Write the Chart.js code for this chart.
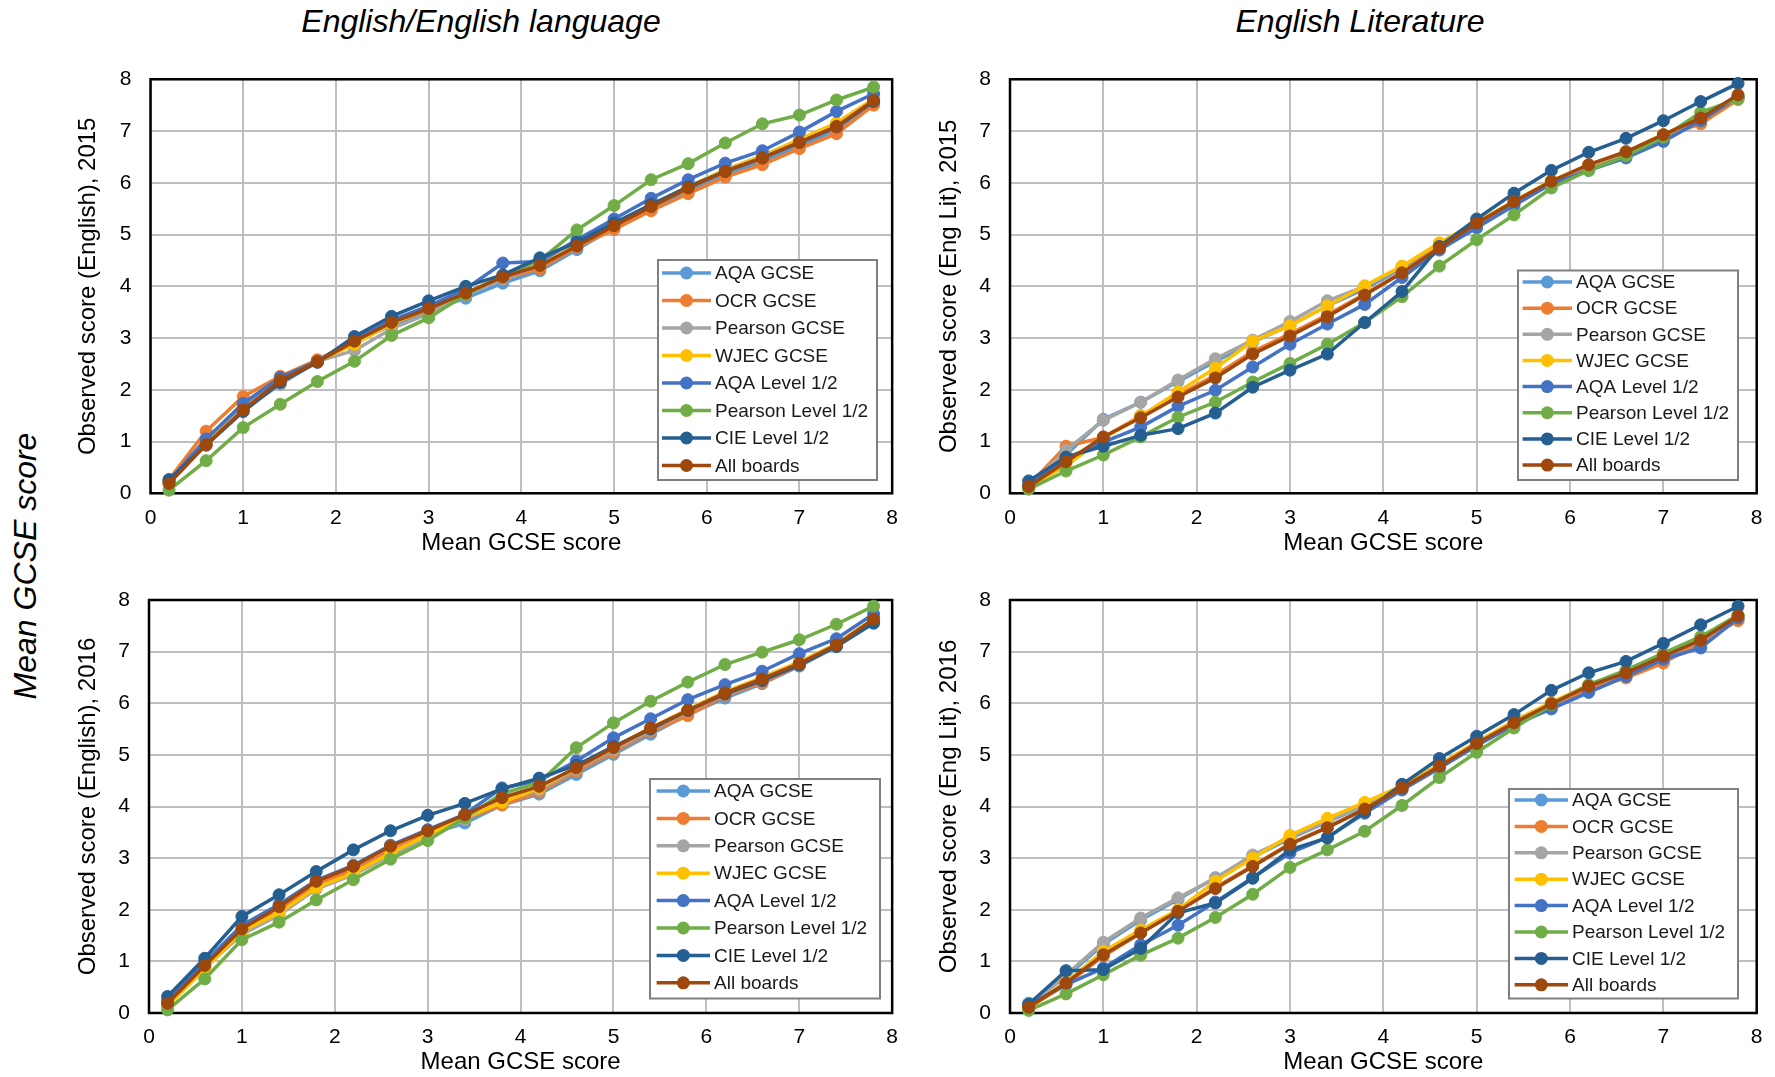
<!DOCTYPE html>
<html>
<head>
<meta charset="utf-8">
<script src="https://cdn.jsdelivr.net/npm/chart.js@4.4.0/dist/chart.umd.min.js"></script>
<style>
  body { margin: 0; background: #fff; }
  #page { position: relative; width: 1775px; height: 1077px; overflow: hidden; font-family: "Liberation Sans", Arial, sans-serif; color: #000; }
  canvas { position: absolute; }
  .title { position: absolute; top: 5px; font-style: italic; font-size: 32px; line-height: 32px; white-space: nowrap; transform: translateX(-50%); }
  .side { position: absolute; left: 25px; top: 566px; font-style: italic; font-size: 32px; white-space: nowrap; transform: translate(-50%, -50%) rotate(-90deg); }
</style>
</head>
<body>
<div id="page">
  <div class="title" style="left:481px">English/English language</div>
  <div class="title" style="left:1360px">English Literature</div>
  <div class="side">Mean GCSE score</div>
  <canvas id="c1" width="860" height="520" style="left:50px;top:45px"></canvas>
  <canvas id="c2" width="865" height="520" style="left:910px;top:45px"></canvas>
  <canvas id="c3" width="860" height="512" style="left:50px;top:565px"></canvas>
  <canvas id="c4" width="865" height="512" style="left:910px;top:565px"></canvas>
</div>
<script>
// x軸の値（平均GCSEスコア）
const meanScores = [0.2, 0.6, 1.0, 1.4, 1.8, 2.2, 2.6, 3.0, 3.4, 3.8, 4.2, 4.6, 5.0, 5.4, 5.8, 6.2, 6.6, 7.0, 7.4, 7.8];

// 系列名と色
const boards = ['AQA GCSE', 'OCR GCSE', 'Pearson GCSE', 'WJEC GCSE', 'AQA Level 1/2', 'Pearson Level 1/2', 'CIE Level 1/2', 'All boards'];
const boardColours = ['#5B9BD5', '#ED7D31', '#A5A5A5', '#FFC000', '#4472C4', '#70AD47', '#255E91', '#9E480E'];

// English / English language 2015（行は boards の順）
const english2015 = [
  [0.20, 0.98, 1.66, 2.18, 2.57, 2.93, 3.25, 3.52, 3.77, 4.06, 4.30, 4.71, 5.13, 5.49, 5.84, 6.16, 6.41, 6.72, 7.02, 7.55],
  [0.27, 1.20, 1.87, 2.26, 2.58, 2.95, 3.28, 3.55, 3.85, 4.14, 4.34, 4.76, 5.10, 5.46, 5.79, 6.11, 6.35, 6.66, 6.95, 7.50],
  [0.22, 0.98, 1.62, 2.10, 2.55, 2.76, 3.18, 3.47, 3.83, 4.15, 4.40, 4.80, 5.20, 5.56, 5.92, 6.25, 6.52, 6.82, 7.12, 7.58],
  [0.20, 0.95, 1.62, 2.17, 2.55, 2.88, 3.28, 3.57, 3.87, 4.19, 4.41, 4.80, 5.19, 5.56, 5.92, 6.25, 6.52, 6.84, 7.16, 7.62],
  [0.24, 1.05, 1.74, 2.24, 2.55, 2.97, 3.34, 3.62, 3.95, 4.45, 4.48, 4.90, 5.30, 5.70, 6.06, 6.38, 6.62, 6.98, 7.38, 7.72],
  [0.06, 0.63, 1.27, 1.72, 2.16, 2.55, 3.05, 3.39, 3.84, 4.20, 4.50, 5.09, 5.56, 6.06, 6.37, 6.77, 7.14, 7.31, 7.60, 7.85],
  [0.26, 0.93, 1.58, 2.14, 2.53, 3.03, 3.42, 3.72, 4.00, 4.22, 4.55, 4.85, 5.22, 5.58, 5.92, 6.22, 6.48, 6.78, 7.08, 7.57],
  [0.19, 0.94, 1.61, 2.18, 2.54, 2.94, 3.30, 3.57, 3.87, 4.18, 4.40, 4.78, 5.17, 5.54, 5.90, 6.22, 6.48, 6.78, 7.09, 7.59]
];

// English Literature 2015
const engLit2015 = [
  [0.15, 0.74, 1.43, 1.76, 2.16, 2.55, 2.92, 3.25, 3.62, 3.95, 4.35, 4.80, 5.20, 5.60, 5.98, 6.28, 6.52, 6.85, 7.18, 7.65],
  [0.15, 0.91, 1.08, 1.50, 1.90, 2.28, 2.74, 3.08, 3.45, 3.85, 4.27, 4.78, 5.20, 5.62, 6.02, 6.32, 6.58, 6.90, 7.14, 7.61],
  [0.14, 0.83, 1.41, 1.76, 2.19, 2.60, 2.96, 3.32, 3.72, 4.00, 4.38, 4.82, 5.22, 5.64, 6.03, 6.33, 6.58, 6.92, 7.22, 7.66],
  [0.12, 0.53, 1.06, 1.49, 1.96, 2.42, 2.94, 3.24, 3.62, 4.01, 4.39, 4.84, 5.24, 5.65, 6.04, 6.34, 6.60, 6.93, 7.25, 7.68],
  [0.15, 0.67, 0.99, 1.28, 1.68, 1.99, 2.44, 2.88, 3.27, 3.65, 4.17, 4.70, 5.13, 5.56, 5.98, 6.24, 6.48, 6.80, 7.20, 7.66],
  [0.08, 0.43, 0.74, 1.09, 1.47, 1.76, 2.15, 2.51, 2.88, 3.30, 3.80, 4.39, 4.90, 5.38, 5.90, 6.24, 6.52, 6.88, 7.36, 7.62],
  [0.24, 0.70, 0.91, 1.12, 1.25, 1.55, 2.05, 2.38, 2.69, 3.30, 3.90, 4.77, 5.30, 5.80, 6.24, 6.59, 6.86, 7.20, 7.57, 7.92],
  [0.13, 0.61, 1.09, 1.46, 1.86, 2.23, 2.69, 3.04, 3.41, 3.83, 4.26, 4.74, 5.22, 5.64, 6.03, 6.35, 6.60, 6.93, 7.25, 7.70]
];

// English / English language 2016
const english2016 = [
  [0.15, 0.88, 1.55, 2.00, 2.48, 2.78, 3.12, 3.45, 3.68, 4.03, 4.24, 4.62, 5.01, 5.40, 5.78, 6.10, 6.38, 6.72, 7.10, 7.60],
  [0.18, 0.92, 1.60, 2.02, 2.50, 2.76, 3.15, 3.46, 3.75, 4.03, 4.28, 4.68, 5.05, 5.45, 5.76, 6.15, 6.40, 6.73, 7.12, 7.60],
  [0.15, 0.88, 1.52, 1.90, 2.40, 2.68, 3.05, 3.40, 3.75, 4.10, 4.32, 4.72, 5.10, 5.48, 5.84, 6.18, 6.45, 6.76, 7.13, 7.62],
  [0.14, 0.85, 1.58, 1.94, 2.43, 2.71, 3.10, 3.45, 3.78, 4.08, 4.36, 4.75, 5.14, 5.52, 5.88, 6.22, 6.50, 6.80, 7.15, 7.64],
  [0.24, 0.98, 1.70, 2.10, 2.57, 2.86, 3.25, 3.55, 3.85, 4.36, 4.50, 4.88, 5.33, 5.70, 6.07, 6.36, 6.62, 6.96, 7.25, 7.73],
  [0.06, 0.66, 1.42, 1.76, 2.19, 2.58, 2.98, 3.34, 3.78, 4.25, 4.46, 5.14, 5.62, 6.04, 6.41, 6.75, 6.99, 7.23, 7.53, 7.88],
  [0.32, 1.06, 1.87, 2.29, 2.74, 3.16, 3.53, 3.83, 4.06, 4.34, 4.55, 4.80, 5.16, 5.50, 5.86, 6.18, 6.44, 6.74, 7.10, 7.55],
  [0.19, 0.92, 1.63, 2.06, 2.55, 2.84, 3.23, 3.53, 3.84, 4.17, 4.39, 4.75, 5.14, 5.52, 5.86, 6.20, 6.47, 6.77, 7.13, 7.63]
];

// English Literature 2016
const engLit2016 = [
  [0.19, 0.70, 1.33, 1.80, 2.20, 2.62, 3.02, 3.38, 3.70, 4.02, 4.36, 4.75, 5.18, 5.58, 5.92, 6.25, 6.52, 6.84, 7.15, 7.62],
  [0.10, 0.55, 1.10, 1.55, 1.97, 2.43, 2.85, 3.28, 3.60, 3.95, 4.33, 4.76, 5.20, 5.60, 5.98, 6.28, 6.49, 6.78, 7.18, 7.60],
  [0.12, 0.74, 1.37, 1.84, 2.23, 2.61, 3.06, 3.40, 3.72, 4.03, 4.38, 4.80, 5.22, 5.62, 6.00, 6.33, 6.58, 6.92, 7.20, 7.66],
  [0.10, 0.60, 1.19, 1.61, 2.00, 2.55, 3.00, 3.44, 3.77, 4.08, 4.40, 4.82, 5.25, 5.66, 6.02, 6.35, 6.62, 6.95, 7.25, 7.70],
  [0.15, 0.55, 0.87, 1.32, 1.70, 2.15, 2.62, 3.10, 3.40, 3.87, 4.32, 4.74, 5.18, 5.58, 5.89, 6.21, 6.52, 6.85, 7.07, 7.65],
  [0.05, 0.37, 0.74, 1.12, 1.45, 1.85, 2.30, 2.82, 3.16, 3.52, 4.02, 4.56, 5.05, 5.52, 5.97, 6.36, 6.64, 6.97, 7.29, 7.71],
  [0.17, 0.82, 0.84, 1.25, 1.94, 2.13, 2.61, 3.16, 3.39, 3.90, 4.43, 4.93, 5.36, 5.78, 6.25, 6.59, 6.81, 7.16, 7.52, 7.88],
  [0.11, 0.58, 1.13, 1.55, 1.97, 2.41, 2.84, 3.27, 3.59, 3.95, 4.36, 4.78, 5.22, 5.62, 5.99, 6.33, 6.59, 6.91, 7.22, 7.69]
];

// 各パネルの設定（ページ座標）
const panels = [
  { id: 'c1', rows: english2015, yTitle: 'Observed score (English), 2015',
    box: { left: 50, top: 45, width: 860, height: 520 },
    area: { left: 150.5, top: 79.3, right: 896, bottom: 493.3 }, xTitleY: 543, yTitleX: 88,
    legend: { x: 658, y: 260, w: 219, h: 220, first: 273, step: 27.5, lineX: 662, textX: 715 } },
  { id: 'c2', rows: engLit2015, yTitle: 'Observed score (Eng Lit), 2015',
    box: { left: 910, top: 45, width: 865, height: 520 },
    area: { left: 1010, top: 79.3, right: 1756.7, bottom: 493.3 }, xTitleY: 543, yTitleX: 949,
    legend: { x: 1518, y: 270.5, w: 220, h: 209.5, first: 282, step: 26.15, lineX: 1522.6, textX: 1576 } },
  { id: 'c3', rows: english2016, yTitle: 'Observed score (English), 2016',
    box: { left: 50, top: 565, width: 860, height: 512 },
    area: { left: 149, top: 600, right: 897, bottom: 1013 }, xTitleY: 1062, yTitleX: 88,
    legend: { x: 650, y: 779, w: 230, h: 219.5, first: 791, step: 27.4, lineX: 656.6, textX: 714 } },
  { id: 'c4', rows: engLit2016, yTitle: 'Observed score (Eng Lit), 2016',
    box: { left: 910, top: 565, width: 865, height: 512 },
    area: { left: 1010, top: 600, right: 1756.7, bottom: 1013 }, xTitleY: 1062, yTitleX: 949,
    legend: { x: 1509, y: 789, w: 229, h: 209.5, first: 800, step: 26.4, lineX: 1514.6, textX: 1572 } }
];

const FONT = '"Liberation Sans", Arial, sans-serif';
const TICK_SIZE = 21;
const TITLE_SIZE = 24;

// プロット枠（黒）
const plotFrame = {
  id: 'plotFrame',
  beforeDatasetsDraw(chart) {
    const a = chart.chartArea;
    const ctx = chart.ctx;
    ctx.save();
    ctx.strokeStyle = '#000';
    ctx.lineWidth = 2.5;
    ctx.strokeRect(a.left, a.top, a.right - a.left, a.bottom - a.top);
    ctx.restore();
  }
};

// 枠付き凡例（プロット内右下）
const boxLegend = {
  id: 'boxLegend',
  afterDatasetsDraw(chart, args, opts) {
    const ctx = chart.ctx;
    ctx.save();
    ctx.fillStyle = '#fff';
    ctx.fillRect(opts.x, opts.y, opts.w, opts.h);
    ctx.strokeStyle = '#7f7f7f';
    ctx.lineWidth = 2;
    ctx.strokeRect(opts.x, opts.y, opts.w, opts.h);
    ctx.font = '19px ' + FONT;
    ctx.textBaseline = 'middle';
    ctx.textAlign = 'left';
    chart.data.datasets.forEach((ds, i) => {
      const y = opts.first + i * opts.step;
      const x1 = opts.lineX, x2 = opts.textX - 4;
      ctx.strokeStyle = ds.borderColor;
      ctx.lineWidth = 3.5;
      ctx.beginPath();
      ctx.moveTo(x1, y);
      ctx.lineTo(x2, y);
      ctx.stroke();
      ctx.fillStyle = ds.borderColor;
      ctx.beginPath();
      ctx.arc((x1 + x2) / 2, y, 6.5, 0, Math.PI * 2);
      ctx.fill();
      ctx.fillStyle = '#1a1a1a';
      ctx.fillText(ds.label, opts.textX, y + 1);
    });
    ctx.restore();
  }
};

panels.forEach(p => {
  const b = p.box;
  const yAxisWidth = p.area.left - b.left;
  const xAxisHeight = b.top + b.height - p.area.bottom;
  const half = TITLE_SIZE * 1.2 / 2;
  const lg = p.legend;

  new Chart(document.getElementById(p.id), {
    type: 'line',
    data: {
      datasets: boards.map((name, i) => ({
        label: name,
        data: meanScores.map((x, j) => ({ x: x, y: p.rows[i][j] })),
        borderColor: boardColours[i],
        backgroundColor: boardColours[i],
        pointBackgroundColor: boardColours[i],
        pointBorderColor: boardColours[i],
        pointRadius: 6,
        pointBorderWidth: 1,
        borderWidth: 3.5,
        tension: 0,
        clip: false,
        order: boards.length - i
      }))
    },
    options: {
      responsive: false,
      animation: false,
      events: [],
      layout: { padding: { top: p.area.top - b.top, right: b.left + b.width - p.area.right, left: 0, bottom: 0 } },
      plugins: {
        legend: { display: false },
        tooltip: { enabled: false },
        boxLegend: { x: lg.x - b.left, y: lg.y - b.top, w: lg.w, h: lg.h, first: lg.first - b.top, step: lg.step, lineX: lg.lineX - b.left, textX: lg.textX - b.left }
      },
      scales: {
        x: {
          type: 'linear', min: 0, max: 8,
          afterFit: s => { s.height = xAxisHeight; },
          ticks: { stepSize: 1, padding: 12, color: '#000', font: { family: FONT, size: TICK_SIZE } },
          grid: { color: '#bfbfbf', lineWidth: 2, drawTicks: false },
          border: { display: false },
          title: { display: true, text: 'Mean GCSE score', color: '#000', font: { family: FONT, size: TITLE_SIZE },
                   padding: { top: 0, bottom: b.top + b.height - p.xTitleY - half } }
        },
        y: {
          type: 'linear', min: 0, max: 8,
          afterFit: s => { s.width = yAxisWidth; },
          ticks: { stepSize: 1, padding: 19, color: '#000', font: { family: FONT, size: TICK_SIZE } },
          grid: { color: '#bfbfbf', lineWidth: 2, drawTicks: false },
          border: { display: false },
          title: { display: true, text: p.yTitle, color: '#000', font: { family: FONT, size: TITLE_SIZE },
                   padding: { top: p.yTitleX - b.left - half, bottom: 0 } }
        }
      }
    },
    plugins: [plotFrame, boxLegend]
  });
});
</script>
</body>
</html>
